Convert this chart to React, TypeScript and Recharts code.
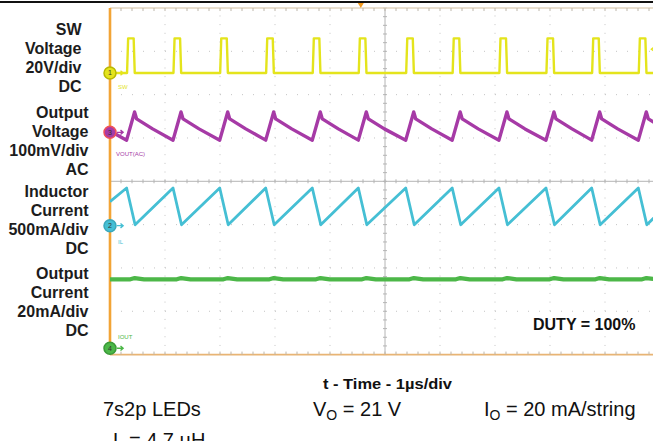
import React from 'react';
import { ComposedChart, Line, XAxis, YAxis, ReferenceLine, ReferenceDot } from 'recharts';

// scope screen: 1 us/div across (10 div), 8 div tall, values below read off the capture
// switch-node rising edges, us
const swRise = [0.32, 1.164, 2.013, 2.849, 3.696, 4.533, 5.395, 6.24, 7.09, 7.945, 8.776, 9.624];
const SW_LOW = 0;      // V
const SW_HIGH = 16;    // V
const SW_WIDTH = 0.12; // us

// output voltage ripple, mV (AC)
const voutStart = 3;
const voutTrough = -18;
const voutPeak = 47;
const voutKnee = 31;
const voutMid = 8;

// inductor current, mA
const ilStart = 277;
const ilPeak = 435;
const ilValley = 10;

// output current, mA
const ioutLevel = 31.8;
const ioutBump = 32.4;

const channels = [
  { id: 1, key: 'sw', tag: 'SW', color: '#e4e41c', ring: '#b8b800', offset: 2.5, scale: 20, width: 2.4, lx: 8, ly: 16 },
  { id: 3, key: 'vout', tag: 'VOUT(AC)', color: '#a63aa6', ring: '#f0505a', offset: 1.13, scale: 100, width: 3.4, lx: 6, ly: 24 },
  { id: 2, key: 'il', tag: 'IL', color: '#45bfd4', ring: '#3aa8bc', offset: -1.024, scale: 500, width: 2.8, lx: 8, ly: 18 },
  { id: 4, key: 'iout', tag: 'IOUT', color: '#4cb748', ring: '#3a9a38', offset: -3.853, scale: 20, width: 4.2, lx: 8, ly: -9 },
];

const leftLabels = [
  { x: 81.5, y: 35, lines: ['SW', 'Voltage', '20V/div', 'DC'] },
  { x: 88.5, y: 117.5, lines: ['Output', 'Voltage', '100mV/div', 'AC'] },
  { x: 88.5, y: 196.5, lines: ['Inductor', 'Current', '500mA/div', 'DC'] },
  { x: 88.5, y: 279, lines: ['Output', 'Current', '20mA/div', 'DC'] },
];

const minorX = Array.from({ length: 51 }, (_, i) => +(i * 0.2).toFixed(1));
const minorY = Array.from({ length: 41 }, (_, i) => +(-4 + i * 0.2).toFixed(1));
const majorX = [1, 2, 3, 4, 6, 7, 8, 9];
const majorY = [-3, -2, -1, 1, 2, 3];

const swData = [
  { t: 0, v: SW_LOW },
  ...swRise.flatMap((r) => [
    { t: r - 0.01, v: SW_LOW },
    { t: r + 0.01, v: SW_HIGH },
    { t: r + SW_WIDTH - 0.01, v: SW_HIGH },
    { t: r + SW_WIDTH + 0.01, v: SW_LOW },
  ]),
  { t: 10, v: SW_LOW },
];

const voutData = [
  { t: 0, v: voutStart },
  ...swRise.flatMap((r) => [
    { t: r - 0.018, v: voutTrough },
    { t: r + 0.127, v: voutPeak },
    { t: r + 0.164, v: voutKnee },
    { t: r + 0.455, v: voutMid },
  ]),
];

const ilData = [
  { t: 0, v: ilStart },
  ...swRise.flatMap((r) => [
    { t: r - 0.018, v: ilPeak },
    { t: r + 0.136, v: ilValley },
  ]),
  { t: 10.45, v: ilPeak },
];

const ioutData = [
  { t: 0, v: ioutLevel },
  ...swRise.flatMap((r) => [
    { t: r + 0.05, v: ioutLevel },
    { t: r + 0.13, v: ioutBump },
    { t: r + 0.3, v: ioutLevel },
  ]),
  { t: 10, v: ioutLevel },
];

const seriesData: Record<string, { t: number; v: number }[]> = {
  sw: swData, vout: voutData, il: ilData, iout: ioutData,
};

const FONT = '"Liberation Sans", Arial, Helvetica, sans-serif';
const TICK = '#bdb6aa';

const Marker = ({ cx, cy, ch }: any) => (
  <g>
    <path d={`M${cx + 7},${cy} h6 M${cx + 10.5},${cy - 2.2} l2.6,2.2 l-2.6,2.2`} stroke={ch.color} strokeWidth={1.4} fill="none" />
    <circle cx={cx} cy={cy} r={6} fill={ch.color} stroke={ch.ring} strokeWidth={1.5} />
    <text x={cx} y={cy + 2.5} fontSize={7} fontFamily={FONT} textAnchor="middle" fill="#333">{ch.id}</text>
    <text x={cx + ch.lx} y={cy + ch.ly} fontSize={6} fontFamily={FONT} fill={ch.color}>{ch.tag}</text>
  </g>
);

const TrigMarker = ({ cx, cy }: any) => (
  <path d={`M${cx - 3},${cy - 5} h6 l-3,5 z`} fill="#f39a1e" />
);

const LevelMarker = ({ cx, cy }: any) => (
  <path d={`M${cx + 3},${cy - 3} l-4,3 l4,3`} stroke="#e4e41c" strokeWidth={1.3} fill="none" />
);

export default function App() {
  return (
    <div style={{ position: 'fixed', left: 0, top: 0, width: 653, height: 441, overflow: 'hidden', background: '#fff' }}>
      <div style={{ position: 'absolute', left: 0, top: 0 }}>
        <ComposedChart width={670} height={441} margin={{ top: 8, right: 10, bottom: 86.4, left: 110 }}>
          <XAxis type="number" dataKey="t" domain={[0, 10]} hide allowDataOverflow />
          <YAxis type="number" domain={[-4, 4]} ticks={minorY} orientation="left" mirror allowDataOverflow
            tick={false} tickSize={3} axisLine={false} tickLine={{ stroke: TICK }} />

          {majorX.map((x) => (
            <ReferenceLine key={'gx' + x} x={x} stroke="#c4c4c4" strokeDasharray="1 7.67" />
          ))}
          {majorY.map((y) => (
            <ReferenceLine key={'gy' + y} y={y} stroke="#c4c4c4" strokeDasharray="1 10" />
          ))}
          <ReferenceLine x={5} stroke="#b4b4b4" strokeWidth={1} />
          <ReferenceLine y={0} stroke="#b4b4b4" strokeWidth={1} />
          {minorY.map((y) => (
            <ReferenceLine key={'cy' + y} segment={[{ x: 4.964, y }, { x: 5.036, y }]} stroke="#b4b4b4" />
          ))}
          {minorX.map((x) => (
            <ReferenceLine key={'cx' + x} segment={[{ x, y: -0.046 }, { x, y: 0.046 }]} stroke="#b4b4b4" />
          ))}

          {/* screen frame: top and bottom borders with minor ticks */}
          <ReferenceLine y={4} stroke="#e2d4bf" strokeWidth={1.4} ifOverflow="visible" />
          <ReferenceLine y={-4} stroke="#e8b474" strokeWidth={1.8} ifOverflow="visible" />
          {minorX.map((x) => (
            <ReferenceLine key={'tt' + x} segment={[{ x, y: 4 }, { x, y: 3.93 }]} stroke={TICK} ifOverflow="visible" />
          ))}
          {minorX.map((x) => (
            <ReferenceLine key={'bt' + x} segment={[{ x, y: -4 }, { x, y: -3.93 }]} stroke={TICK} ifOverflow="visible" />
          ))}
          <ReferenceLine x={0} stroke="#f2a436" strokeWidth={2.6} ifOverflow="visible" />

          {channels.map((ch) => (
            <Line key={ch.key} data={seriesData[ch.key]} dataKey={(d: any) => ch.offset + d.v / ch.scale}
              type="linear" stroke={ch.color} strokeWidth={ch.width} dot={false} activeDot={false}
              strokeLinejoin="round" isAnimationActive={false} />
          ))}

          {channels.map((ch) => (
            <ReferenceDot key={'m' + ch.key} x={0} y={ch.offset} r={6} ifOverflow="visible"
              shape={(p: any) => <Marker {...p} ch={ch} />} />
          ))}
          <ReferenceDot x={4.56} y={4} r={3} ifOverflow="visible" shape={(p: any) => <TrigMarker {...p} />} />
          <ReferenceDot x={9.86} y={3.05} r={3} ifOverflow="visible" shape={(p: any) => <LevelMarker {...p} />} />
        </ComposedChart>
      </div>

      <div style={{ position: 'absolute', left: 0, top: 1, width: 653, height: 2, background: '#111' }} />

      <svg width={653} height={441} style={{ position: 'absolute', left: 0, top: 0, pointerEvents: 'none' }}>
        {leftLabels.map((g, gi) => (
          <text key={gi} fontFamily={FONT} fontWeight="bold" fontSize={16} fill="#1c1c1c" textAnchor="end">
            {g.lines.map((s, i) => (
              <tspan key={i} x={g.x} y={g.y + i * 19}>{s}</tspan>
            ))}
          </text>
        ))}
        <text x={533} y={329.5} fontFamily={FONT} fontWeight="bold" fontSize={16} fill="#111">DUTY = 100%</text>
        <text x={323} y={389} fontFamily={FONT} fontWeight="bold" fontSize={15} fill="#111"
          textLength={129} lengthAdjust="spacingAndGlyphs">t - Time - 1µs/div</text>
        <text x={103} y={416} fontFamily={FONT} fontSize={20} fill="#111">7s2p LEDs</text>
        <text x={313} y={416} fontFamily={FONT} fontSize={20} fill="#111">
          V<tspan dy={4} fontSize={14}>O</tspan><tspan dy={-4}> = 21 V</tspan>
        </text>
        <text x={484} y={416} fontFamily={FONT} fontSize={20} fill="#111">
          I<tspan dy={4} fontSize={14}>O</tspan><tspan dy={-4}> = 20 mA/string</tspan>
        </text>
        <text x={113} y={447} fontFamily={FONT} fontSize={20} fill="#111">L = 4.7 µH</text>
      </svg>
    </div>
  );
}
